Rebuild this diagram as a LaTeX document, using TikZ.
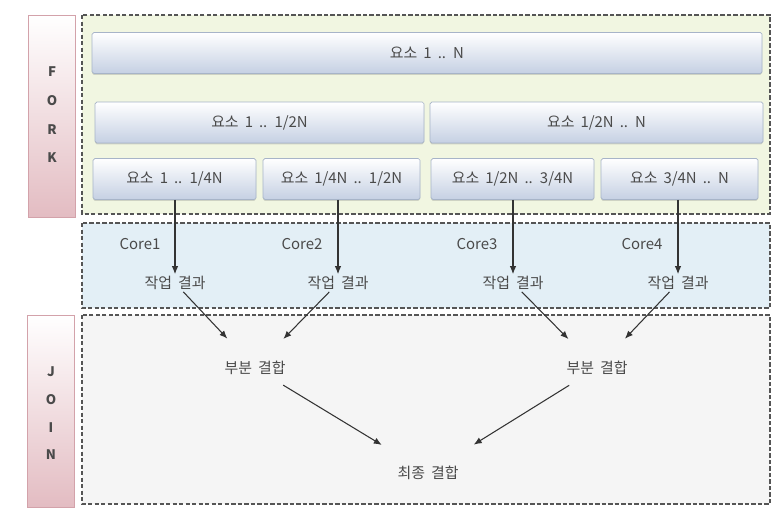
\documentclass[tikz,border=0pt]{standalone}
\usepackage{fontspec}
\setmainfont[WordSpace=1.8]{Noto Sans CJK KR}
\usetikzlibrary{arrows.meta,shadows}
\usepackage{xcolor}
\definecolor{forkgreen}{HTML}{F1F6E1}
\definecolor{coreblue}{HTML}{E3EFF6}
\definecolor{joingray}{HTML}{F5F5F5}
\definecolor{barpink}{HTML}{E3BCC2}
\definecolor{barline}{HTML}{D3A2AA}
\definecolor{boxblue}{HTML}{C5D0E3}
\definecolor{boxline}{HTML}{A7B4C8}
\definecolor{dashgray}{HTML}{555555}
\definecolor{ink}{HTML}{4A4A4A}
\definecolor{arrowgray}{HTML}{333333}

\begin{document}
\begin{tikzpicture}[
    blk/.style={draw=boxline, rounded corners=1pt, top color=white, bottom color=boxblue, minimum height=0.82cm, font=\fontsize{8.5}{10}\selectfont, text=ink, drop shadow={shadow xshift=0pt, shadow yshift=-0.8pt, opacity=0.3}},
    zone/.style={draw=dashgray, line width=0.8pt, dash pattern=on 2.5pt off 1.2pt},
    bar/.style={draw=barline, top color=white, bottom color=barpink, minimum width=0.94cm, drop shadow={shadow xshift=0pt, shadow yshift=-0.8pt, opacity=0.2}},
    barch/.style={font=\fontsize{7.5}{8}\selectfont\bfseries, text=ink},
    lbl/.style={font=\fontsize{8.5}{10}\selectfont, text=ink, inner sep=1pt},
    dep/.style={-{Latex[length=1.6mm, width=1.3mm]}, line width=0.6pt, color=arrowgray},
]
\useasboundingbox (0,0) rectangle (15.6,-10.28);

\draw[zone, fill=forkgreen] (1.64,-0.30) rectangle (15.40,-4.28);
\draw[zone, fill=coreblue] (1.64,-4.46) rectangle (15.40,-6.16);
\draw[zone, fill=joingray] (1.64,-6.30) rectangle (15.40,-10.08);

\node[bar, minimum height=4.04cm] (forkbar) at (1.04,-2.32) {};
\node[bar, minimum height=3.84cm] (joinbar) at (1.02,-8.22) {};
\foreach \ch [count=\i] in {F,O,R,K}
    \node[barch] (fork\i) at (1.04,-1.44-0.573*\i+0.573) {\ch};
\foreach \ch [count=\i] in {J,O,I,N}
    \node[barch] (join\i) at (1.02,-7.44-0.553*\i+0.553) {\ch};

\node[blk, minimum width=13.4cm] (all) at (8.54,-1.06) {요소 1 .. N};
\node[blk, minimum width=6.58cm] (half1) at (5.19,-2.45) {요소 1 .. 1/2N};
\node[blk, minimum width=6.66cm] (half2) at (11.93,-2.45) {요소 1/2N .. N};
\node[blk, minimum width=3.26cm] (q1) at (3.49,-3.58) {요소 1 .. 1/4N};
\node[blk, minimum width=3.14cm] (q2) at (6.83,-3.58) {요소 1/4N .. 1/2N};
\node[blk, minimum width=3.26cm] (q3) at (10.25,-3.58) {요소 1/2N .. 3/4N};
\node[blk, minimum width=3.14cm] (q4) at (13.59,-3.58) {요소 3/4N .. N};

\node[lbl] (core1) at (2.80,-4.88) {Core1};
\node[lbl] (core2) at (6.04,-4.88) {Core2};
\node[lbl] (core3) at (9.54,-4.88) {Core3};
\node[lbl] (core4) at (12.84,-4.88) {Core4};

\node[lbl] (res1) at (3.50,-5.66) {작업 결과};
\node[lbl] (res2) at (6.76,-5.66) {작업 결과};
\node[lbl] (res3) at (10.26,-5.66) {작업 결과};
\node[lbl] (res4) at (13.56,-5.66) {작업 결과};

\node[lbl] (part1) at (5.10,-7.36) {부분 결합};
\node[lbl] (part2) at (11.94,-7.36) {부분 결합};
\node[lbl] (final) at (8.56,-9.46) {최종 결합};

\draw[dep] (q1.south -| res1) -- (res1);
\draw[dep] (q2.south -| res2) -- (res2);
\draw[dep] (q3.south -| res3) -- (res3);
\draw[dep] (q4.south -| res4) -- (res4);
\draw[dep, shorten >=16pt] (res1) -- (part1);
\draw[dep, shorten >=16pt] (res2) -- (part1);
\draw[dep, shorten >=16pt] (res3) -- (part2);
\draw[dep, shorten >=16pt] (res4) -- (part2);
\draw[dep, shorten <=9pt, shorten >=21pt] (part1) -- (final);
\draw[dep, shorten <=9pt, shorten >=21pt] (part2) -- (final);

\end{tikzpicture}
\end{document}
